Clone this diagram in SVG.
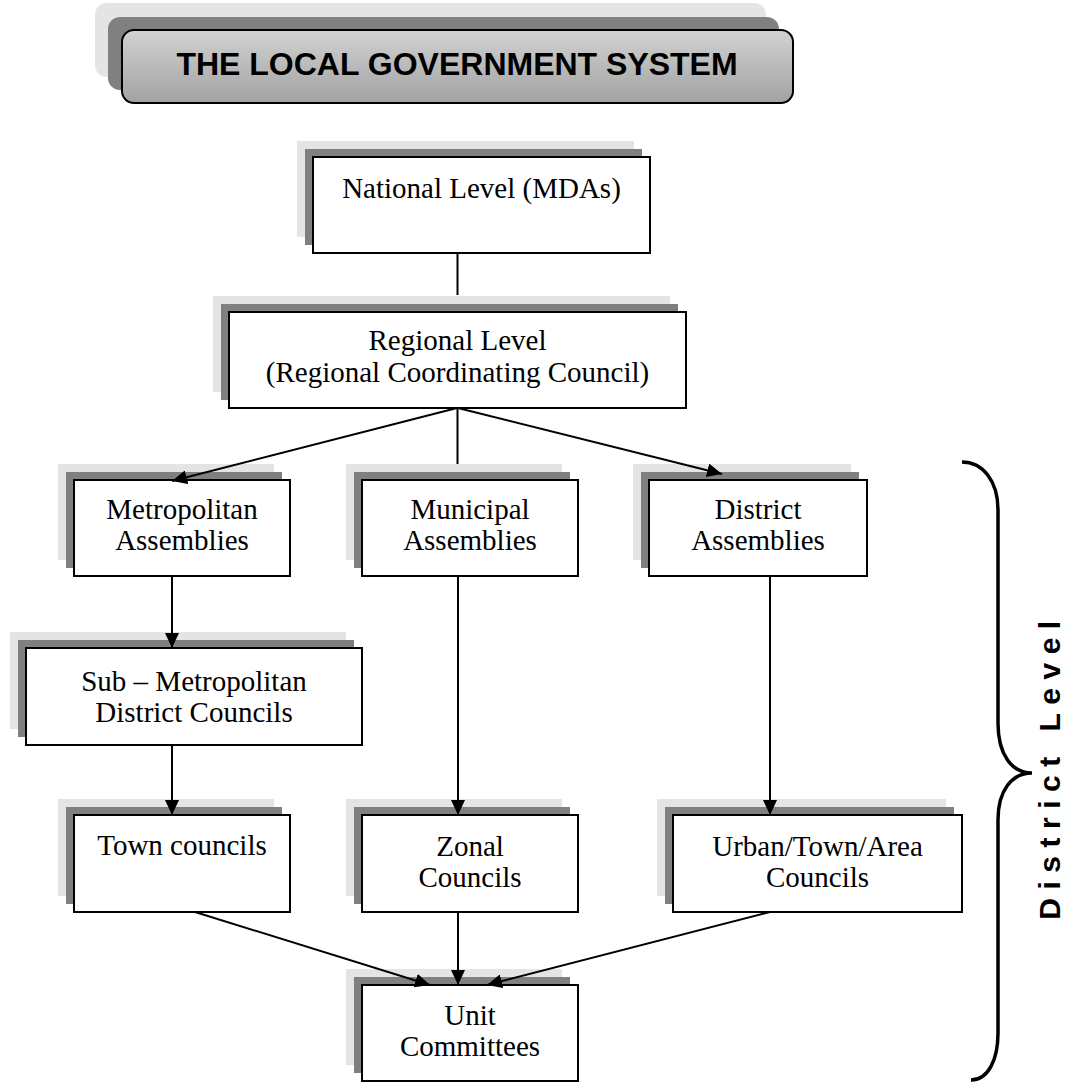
<svg xmlns="http://www.w3.org/2000/svg" width="1071" height="1083" viewBox="0 0 1071 1083">
<style>
.sh1{fill:#e4e4e4}
.sh2{fill:#808080}
.box{fill:#ffffff;stroke:#000;stroke-width:2}
.t{font-family:"Liberation Serif","Times New Roman",serif;font-size:29px;fill:#000;text-anchor:middle}
.ln{stroke:#000;stroke-width:2;fill:none}
</style>
<defs>
<marker id="ah" markerUnits="userSpaceOnUse" markerWidth="16" markerHeight="14" refX="15" refY="7" orient="auto">
<path d="M0,0 L15,7 L0,14 z" fill="#000"/>
</marker>
<linearGradient id="tg" x1="0" y1="0" x2="0" y2="1">
<stop offset="0" stop-color="#d2d2d2"/>
<stop offset="1" stop-color="#a2a2a2"/>
</linearGradient>
</defs>
<rect width="1071" height="1083" fill="#fff"/>

<g id="title">
<rect class="sh1" x="95" y="3" width="671" height="74" rx="12"/>
<rect class="sh2" x="108" y="17" width="671" height="73" rx="12"/>
<rect x="122" y="30" width="671" height="73" rx="12" fill="url(#tg)" stroke="#000" stroke-width="2"/>
<text x="457" y="75" font-family="'Liberation Sans',Arial,sans-serif" font-size="32" font-weight="bold" text-anchor="middle">THE LOCAL GOVERNMENT SYSTEM</text>
</g>

<g id="national">
<rect class="sh1" x="297" y="141" width="337" height="96"/>
<rect class="sh2" x="305" y="149" width="337" height="96"/>
<rect class="box" x="313" y="157" width="337" height="96"/>
<text class="t" x="481.5" y="198">National Level (MDAs)</text>
</g>

<g id="regional">
<rect class="sh1" x="213" y="296" width="457" height="96"/>
<rect class="sh2" x="221" y="304" width="457" height="96"/>
<rect class="box" x="229" y="312" width="457" height="96"/>
<text class="t" x="457.5" y="350">Regional Level</text>
<text class="t" x="457.5" y="382">(Regional Coordinating Council)</text>
</g>

<g id="metropolitan">
<rect class="sh1" x="58" y="464" width="216" height="96"/>
<rect class="sh2" x="66" y="472" width="216" height="96"/>
<rect class="box" x="74" y="480" width="216" height="96"/>
<text class="t" x="182" y="519">Metropolitan</text>
<text class="t" x="182" y="550">Assemblies</text>
</g>

<g id="municipal">
<rect class="sh1" x="346" y="464" width="216" height="96"/>
<rect class="sh2" x="354" y="472" width="216" height="96"/>
<rect class="box" x="362" y="480" width="216" height="96"/>
<text class="t" x="470" y="519">Municipal</text>
<text class="t" x="470" y="550">Assemblies</text>
</g>

<g id="district">
<rect class="sh1" x="633" y="464" width="218" height="96"/>
<rect class="sh2" x="641" y="472" width="218" height="96"/>
<rect class="box" x="649" y="480" width="218" height="96"/>
<text class="t" x="758" y="519">District</text>
<text class="t" x="758" y="550">Assemblies</text>
</g>

<g id="submetropolitan">
<rect class="sh1" x="10" y="632" width="336" height="97"/>
<rect class="sh2" x="18" y="640" width="336" height="97"/>
<rect class="box" x="26" y="648" width="336" height="97"/>
<text class="t" x="194" y="691">Sub – Metropolitan</text>
<text class="t" x="194" y="722">District Councils</text>
</g>

<g id="town">
<rect class="sh1" x="58" y="799" width="216" height="97"/>
<rect class="sh2" x="66" y="807" width="216" height="97"/>
<rect class="box" x="74" y="815" width="216" height="97"/>
<text class="t" x="182" y="855">Town councils</text>
</g>

<g id="zonal">
<rect class="sh1" x="346" y="799" width="216" height="97"/>
<rect class="sh2" x="354" y="807" width="216" height="97"/>
<rect class="box" x="362" y="815" width="216" height="97"/>
<text class="t" x="470" y="856">Zonal</text>
<text class="t" x="470" y="887">Councils</text>
</g>

<g id="urban">
<rect class="sh1" x="657" y="799" width="289" height="97"/>
<rect class="sh2" x="665" y="807" width="289" height="97"/>
<rect class="box" x="673" y="815" width="289" height="97"/>
<text class="t" x="817.5" y="856">Urban/Town/Area</text>
<text class="t" x="817.5" y="887">Councils</text>
</g>

<g id="unit">
<rect class="sh1" x="346" y="969" width="216" height="96"/>
<rect class="sh2" x="354" y="977" width="216" height="96"/>
<rect class="box" x="362" y="985" width="216" height="96"/>
<text class="t" x="470" y="1025">Unit</text>
<text class="t" x="470" y="1056">Committees</text>
</g>

<g id="connectors">
<line class="ln" x1="457.5" y1="253" x2="457.5" y2="295"/>
<line class="ln" x1="457.5" y1="408" x2="457.5" y2="464"/>
<line class="ln" x1="457" y1="408" x2="172" y2="481" marker-end="url(#ah)"/>
<line class="ln" x1="458" y1="408" x2="722" y2="474" marker-end="url(#ah)"/>
<line class="ln" x1="172" y1="577" x2="172" y2="648" marker-end="url(#ah)"/>
<line class="ln" x1="172" y1="745" x2="172" y2="815" marker-end="url(#ah)"/>
<line class="ln" x1="458" y1="577" x2="458" y2="815" marker-end="url(#ah)"/>
<line class="ln" x1="770" y1="577" x2="770" y2="815" marker-end="url(#ah)"/>
<line class="ln" x1="195" y1="912" x2="430" y2="985" marker-end="url(#ah)"/>
<line class="ln" x1="458" y1="912" x2="458" y2="985" marker-end="url(#ah)"/>
<line class="ln" x1="770" y1="912" x2="487" y2="985" marker-end="url(#ah)"/>
</g>

<g id="district-level">
<path d="M962,462 C982,462 998,480 998,510 L998,723 C998,755 1012,773 1032,773 C1012,773 998,790 998,820 L998,1033 C998,1060 988,1080 971,1080" fill="none" stroke="#000" stroke-width="3.5"/>
<text transform="translate(1060,766) rotate(-90)" font-family="'Liberation Sans',Arial,sans-serif" font-size="30" font-weight="bold" letter-spacing="8.5" text-anchor="middle">District Level</text>
</g>
</svg>
